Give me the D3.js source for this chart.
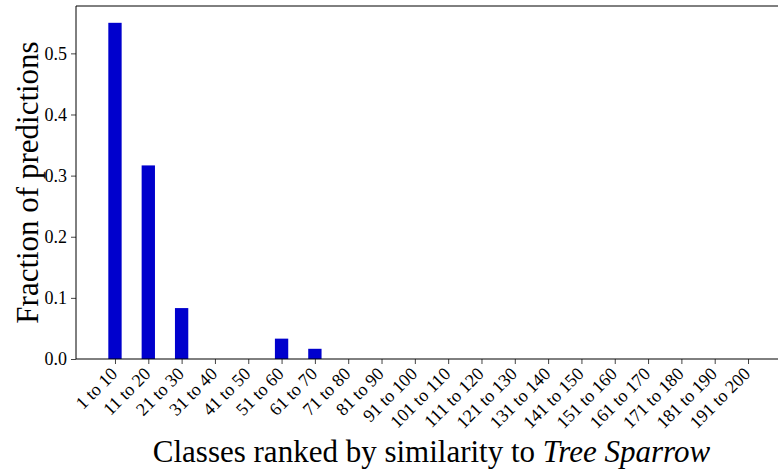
<!DOCTYPE html>
<html>
<head>
<meta charset="utf-8">
<script src="https://cdn.jsdelivr.net/npm/d3@7"></script>
<style>
  html, body { margin: 0; padding: 0; background: #fff; }
  svg { display: block; }
  text { font-family: "Liberation Serif", "DejaVu Serif", serif; fill: #000; }
</style>
</head>
<body>
<svg id="chart" width="778" height="471"></svg>
<script>
// Rank buckets of classes, ordered by similarity to the target class
const categories = [
  "1 to 10", "11 to 20", "21 to 30", "31 to 40", "41 to 50",
  "51 to 60", "61 to 70", "71 to 80", "81 to 90", "91 to 100",
  "101 to 110", "111 to 120", "121 to 130", "131 to 140", "141 to 150",
  "151 to 160", "161 to 170", "171 to 180", "181 to 190", "191 to 200"
];
// Fraction of predictions landing in each bucket
const fractions = [
  0.55, 0.3167, 0.0833, 0, 0,
  0.0333, 0.0167, 0, 0, 0,
  0, 0, 0, 0, 0,
  0, 0, 0, 0, 0
];
const yTicks = [0.0, 0.1, 0.2, 0.3, 0.4, 0.5];
const targetClass = "Tree Sparrow";

const svg = d3.select("#chart");
const plot = { left: 76, right: 787, top: 6, bottom: 359 };
const barWidth = 0.4;

// Linear x in bar-index units, padded like a 5% margin around the bars
const xMin = -barWidth / 2, xMax = categories.length - 1 + barWidth / 2;
const xPad = (xMax - xMin) * 0.05;
const x = d3.scaleLinear()
  .domain([xMin - xPad, xMax + xPad])
  .range([plot.left, plot.right]);

const yMax = d3.max(fractions) * 1.05;
const y = d3.scaleLinear()
  .domain([0, yMax])
  .range([plot.bottom, plot.top]);

// Bars
svg.append("g")
  .selectAll("rect")
  .data(fractions)
  .join("rect")
  .attr("x", (d, i) => x(i - barWidth / 2))
  .attr("width", (d, i) => x(i + barWidth / 2) - x(i - barWidth / 2))
  .attr("y", d => y(d))
  .attr("height", d => y(0) - y(d))
  .attr("fill", "#0000cd");

// Y axis
const yAxis = svg.append("g")
  .attr("transform", `translate(${plot.left},0)`)
  .call(d3.axisLeft(y).tickValues(yTicks).tickFormat(d3.format(".1f")).tickSize(5).tickPadding(4));
yAxis.select(".domain").remove();
yAxis.selectAll("text").attr("font-size", 18).attr("font-family", "Liberation Serif");
yAxis.selectAll("line").attr("stroke", "#444");

// X axis
const xAxis = svg.append("g")
  .attr("transform", `translate(0,${plot.bottom})`)
  .call(d3.axisBottom(x).tickValues(d3.range(categories.length)).tickFormat(i => categories[i]).tickSize(5));
xAxis.select(".domain").remove();
xAxis.selectAll("line").attr("stroke", "#444");
xAxis.selectAll("text")
  .attr("font-size", 18)
  .attr("font-family", "Liberation Serif")
  .attr("text-anchor", "end")
  .attr("dy", null)
  .attr("y", null)
  .attr("transform", "translate(0,13) rotate(-45)")
  .attr("dominant-baseline", "middle");

// Spines: left, bottom, top (right edge lies outside the canvas)
const spine = svg.append("g").attr("stroke", "#000").attr("stroke-width", 1).attr("fill", "none");
spine.append("line").attr("x1", plot.left).attr("x2", plot.left).attr("y1", plot.top).attr("y2", plot.bottom);
spine.append("line").attr("x1", plot.left).attr("x2", plot.right).attr("y1", plot.bottom).attr("y2", plot.bottom);
spine.append("line").attr("x1", plot.left).attr("x2", plot.right).attr("y1", plot.top).attr("y2", plot.top);
spine.append("line").attr("x1", plot.right).attr("x2", plot.right).attr("y1", plot.top).attr("y2", plot.bottom);

// Axis titles
svg.append("text")
  .attr("transform", `translate(38,${(plot.top + plot.bottom) / 2}) rotate(-90)`)
  .attr("text-anchor", "middle")
  .attr("font-size", 31)
  .text("Fraction of predictions");

const xl = svg.append("text")
  .attr("x", (plot.left + plot.right) / 2)
  .attr("y", 462)
  .attr("text-anchor", "middle")
  .attr("font-size", 31);
xl.append("tspan").text("Classes ranked by similarity to ");
xl.append("tspan").attr("font-style", "italic").text(targetClass);
</script>
</body>
</html>
